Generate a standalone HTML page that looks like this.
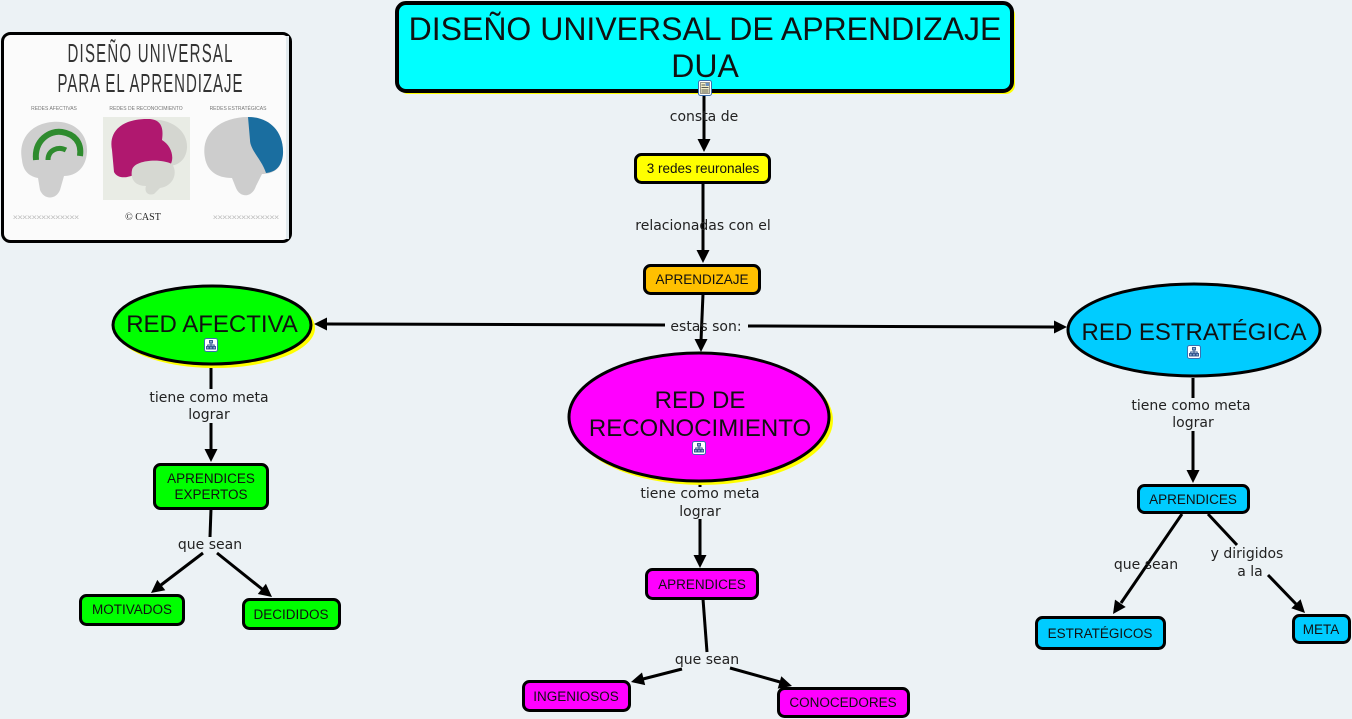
<!DOCTYPE html>
<html><head><meta charset="utf-8">
<style>
html,body{margin:0;padding:0;background:#ecf2f5;}
body{width:1352px;height:719px;overflow:hidden;position:relative;}
svg{position:absolute;left:0;top:0;}
.n{font-family:"Liberation Sans",Arial,sans-serif;fill:#111;text-anchor:middle;}
.l{font-family:"DejaVu Sans",Verdana,sans-serif;font-size:14px;fill:#222;text-anchor:middle;}
</style></head>
<body>
<svg width="1352" height="719" viewBox="0 0 1352 719" xmlns="http://www.w3.org/2000/svg">
<rect x="0" y="0" width="1352" height="719" fill="#ecf2f5"/>

<!-- Thumbnail image -->
<rect x="2.5" y="33.5" width="288" height="208" rx="8" fill="#fbfbfb" stroke="#000" stroke-width="3"/>
<rect x="286" y="36" width="3" height="203" fill="#e2eaee"/>
<g transform="scale(1,1.75)">
<text x="150" y="35.4" font-family="Liberation Sans, sans-serif" font-size="15" fill="#333" text-anchor="middle" textLength="165" lengthAdjust="spacing">DISEÑO UNIVERSAL</text>
<text x="150" y="52.6" font-family="Liberation Sans, sans-serif" font-size="15" fill="#333" text-anchor="middle" textLength="185" lengthAdjust="spacing">PARA EL APRENDIZAJE</text>
</g>
<g font-family="Liberation Sans, sans-serif" font-size="5" fill="#777" text-anchor="middle">
<text x="54" y="110">REDES AFECTIVAS</text>
<text x="146" y="110">REDES DE RECONOCIMIENTO</text>
<text x="238" y="110">REDES ESTRATÉGICAS</text>
</g>
<!-- left brain -->
<path d="M22,160 C18,140 30,124 52,122 C72,120 88,132 87,152 C86,168 76,176 64,176 L60,190 C56,200 44,200 40,190 L38,178 C28,176 23,170 22,160 Z" fill="#cfcfcf"/>
<path d="M36,160 C34,140 50,130 62,132 C74,134 82,142 80,156" fill="none" stroke="#2e8b2e" stroke-width="6"/>
<path d="M48,160 C48,150 58,146 66,150" fill="none" stroke="#2e8b2e" stroke-width="5"/>
<!-- middle -->
<rect x="103" y="117" width="87" height="83" fill="#e9ece5"/>
<path d="M150,120 C170,118 188,130 187,148 C186,160 178,166 168,166 L160,140 Z" fill="#d4d6d0"/>
<path d="M112,150 C108,130 124,118 150,119 C160,120 164,126 162,140 C172,146 176,160 168,168 L140,172 C130,178 118,180 114,172 Z" fill="#b0186f"/>
<path d="M132,170 C134,160 160,158 172,164 C178,172 174,186 160,188 L154,194 C148,196 144,192 146,186 C136,186 130,180 132,170 Z" fill="#d6d8d2"/>
<!-- right brain -->
<path d="M205,158 C200,132 222,117 248,117 C270,117 284,132 283,154 C282,170 272,174 262,174 L256,186 C252,198 240,198 236,188 L232,178 C216,178 207,170 205,158 Z" fill="#cdcdcd"/>
<path d="M248,117 C270,117 284,132 283,154 C282,166 276,172 266,173 C262,160 250,150 250,140 Z" fill="#1a6ea0"/>
<text x="143" y="220" font-family="Liberation Serif, serif" font-size="10" fill="#222" text-anchor="middle">© CAST</text>
<text x="46" y="219" font-family="Liberation Sans, sans-serif" font-size="6" fill="#bbb" text-anchor="middle" textLength="66" lengthAdjust="spacingAndGlyphs">xxxxxxxxxxxxxx</text>
<text x="246" y="219" font-family="Liberation Sans, sans-serif" font-size="6" fill="#bbb" text-anchor="middle" textLength="66" lengthAdjust="spacingAndGlyphs">xxxxxxxxxxxxxx</text>

<!-- Connectors -->
<g stroke="#000" stroke-width="3" fill="none">
<line x1="704" y1="96" x2="704" y2="141"/>
<line x1="703" y1="183" x2="703" y2="252"/>
<line x1="703" y1="294" x2="701" y2="341"/>
<line x1="665" y1="325" x2="326" y2="324"/>
<line x1="748" y1="326" x2="1055" y2="327"/>
<line x1="211" y1="368" x2="211" y2="389"/>
<line x1="211" y1="423" x2="211" y2="450"/>
<line x1="211" y1="509" x2="210" y2="537"/>
<line x1="203" y1="553" x2="161" y2="585"/>
<line x1="217" y1="553" x2="262" y2="589"/>
<line x1="700" y1="482" x2="700" y2="487"/>
<line x1="700" y1="519" x2="700" y2="556"/>
<line x1="703" y1="599" x2="707" y2="652"/>
<line x1="682" y1="669" x2="643" y2="679"/>
<line x1="730" y1="668" x2="780" y2="682"/>
<line x1="1193" y1="378" x2="1193" y2="398"/>
<line x1="1193" y1="431" x2="1193" y2="471"/>
<line x1="1182" y1="514" x2="1121" y2="603"/>
<line x1="1208" y1="514" x2="1237" y2="545"/>
<line x1="1268" y1="575" x2="1296" y2="604"/>
</g>
<g fill="#000">
<polygon points="704,152 697.5,139 710.5,139"/>
<polygon points="703,263 696.5,250 709.5,250"/>
<polygon points="701,352 694.5,339 707.5,339"/>
<polygon points="314,324 327,317.5 327,330.5"/>
<polygon points="1067,327 1054,320.5 1054,333.5"/>
<polygon points="211,462 204.5,449 217.5,449"/>
<polygon points="151,593 165.3,590.2 157.3,579.9"/>
<polygon points="272,597 257.8,594 265.9,583.8"/>
<polygon points="700,568 693.5,555 706.5,555"/>
<polygon points="631,682 645.2,685.1 642,672.5"/>
<polygon points="792,686 777.7,688.6 781.3,676.2"/>
<polygon points="1193,483 1186.5,470 1199.5,470"/>
<polygon points="1113,614 1125.7,607 1115,599.6"/>
<polygon points="1305,613 1291.3,608.2 1300.6,599.2"/>
</g>

<!-- Link labels -->
<text class="l" x="704" y="121">consta de</text>
<text class="l" x="703" y="230">relacionadas con el</text>
<text class="l" x="706" y="331">estas son:</text>
<text class="l" x="209" y="402">tiene como meta</text>
<text class="l" x="209" y="419">lograr</text>
<text class="l" x="210" y="549">que sean</text>
<text class="l" x="700" y="498">tiene como meta</text>
<text class="l" x="700" y="516">lograr</text>
<text class="l" x="707" y="664">que sean</text>
<text class="l" x="1191" y="410">tiene como meta</text>
<text class="l" x="1193" y="427">lograr</text>
<text class="l" x="1146" y="569">que sean</text>
<text class="l" x="1247" y="558">y dirigidos</text>
<text class="l" x="1250" y="576">a la</text>

<!-- Title -->
<rect x="399" y="6" width="616" height="88" rx="9" fill="#ffff00"/>
<rect x="397" y="3" width="615" height="88" rx="9" fill="#00ffff" stroke="#000" stroke-width="4"/>
<text class="n" x="705" y="40" font-size="32">DISEÑO UNIVERSAL DE APRENDIZAJE</text>
<text class="n" x="705" y="77" font-size="32">DUA</text>
<!-- doc icon -->
<rect x="698.5" y="80.5" width="13" height="15" rx="2" fill="#fff" stroke="#3a6fb0" stroke-width="1"/>
<rect x="700.5" y="82.5" width="9" height="11" fill="#f4efc8" stroke="#555" stroke-width="0.6"/>
<g stroke="#333" stroke-width="0.8"><line x1="701.5" y1="85" x2="705" y2="85"/><line x1="701.5" y1="87.5" x2="708.5" y2="87.5"/><line x1="701.5" y1="90" x2="708.5" y2="90"/><line x1="701.5" y1="92" x2="708.5" y2="92"/></g>
<rect x="705.5" y="83" width="3.5" height="3" fill="#6a8fc0"/>

<!-- Nodes -->
<rect x="635.5" y="154.5" width="134" height="28" rx="6" fill="#ffff00" stroke="#000" stroke-width="3"/>
<text class="n" x="703" y="173" font-size="13.5">3 redes reuronales</text>

<rect x="644.5" y="265.5" width="115" height="28" rx="6" fill="#ffc000" stroke="#000" stroke-width="3"/>
<text class="n" x="702" y="284" font-size="13.5">APRENDIZAJE</text>

<!-- RED AFECTIVA -->
<ellipse cx="215" cy="328" rx="100" ry="40" fill="#ffff00"/>
<ellipse cx="212" cy="325" rx="99" ry="39" fill="#00ff00" stroke="#000" stroke-width="3"/>
<text class="n" x="212" y="332" font-size="24">RED AFECTIVA</text>

<!-- RED DE RECONOCIMIENTO -->
<ellipse cx="702" cy="420" rx="131" ry="65" fill="#ffff00"/>
<ellipse cx="699" cy="417" rx="130" ry="64" fill="#ff00ff" stroke="#000" stroke-width="3"/>
<text class="n" x="700" y="408" font-size="24">RED DE</text>
<text class="n" x="700" y="436" font-size="24">RECONOCIMIENTO</text>

<!-- RED ESTRATEGICA -->
<ellipse cx="1194" cy="330" rx="126" ry="46" fill="#00ccff" stroke="#000" stroke-width="3"/>
<text class="n" x="1194" y="340" font-size="24">RED ESTRATÉGICA</text>

<!-- tree icons -->
<g>
<rect x="204.5" y="338.5" width="13" height="13" rx="2" fill="#fff" stroke="#3a6fb0" stroke-width="1"/>
<g stroke="#2b4f8a" stroke-width="0.9" fill="#8aa6d0"><rect x="209.5" y="340.5" width="3" height="2.5"/><rect x="206.5" y="346.5" width="2.5" height="2.5"/><rect x="213" y="346.5" width="2.5" height="2.5"/><rect x="209.7" y="346.5" width="2.5" height="2.5"/><path d="M211,343 V346 M207.7,346 V345 H214.2 V346" fill="none"/></g>
</g>
<g transform="translate(488,103)">
<rect x="204.5" y="338.5" width="13" height="13" rx="2" fill="#fff" stroke="#3a6fb0" stroke-width="1"/>
<g stroke="#2b4f8a" stroke-width="0.9" fill="#8aa6d0"><rect x="209.5" y="340.5" width="3" height="2.5"/><rect x="206.5" y="346.5" width="2.5" height="2.5"/><rect x="213" y="346.5" width="2.5" height="2.5"/><rect x="209.7" y="346.5" width="2.5" height="2.5"/><path d="M211,343 V346 M207.7,346 V345 H214.2 V346" fill="none"/></g>
</g>
<g transform="translate(983,7)">
<rect x="204.5" y="338.5" width="13" height="13" rx="2" fill="#fff" stroke="#3a6fb0" stroke-width="1"/>
<g stroke="#2b4f8a" stroke-width="0.9" fill="#8aa6d0"><rect x="209.5" y="340.5" width="3" height="2.5"/><rect x="206.5" y="346.5" width="2.5" height="2.5"/><rect x="213" y="346.5" width="2.5" height="2.5"/><rect x="209.7" y="346.5" width="2.5" height="2.5"/><path d="M211,343 V346 M207.7,346 V345 H214.2 V346" fill="none"/></g>
</g>

<!-- green boxes -->
<rect x="154.5" y="464.5" width="113" height="44" rx="6" fill="#00ff00" stroke="#000" stroke-width="3"/>
<text class="n" x="211" y="483" font-size="13.5">APRENDICES</text>
<text class="n" x="211" y="499" font-size="13.5">EXPERTOS</text>
<rect x="80.5" y="595.5" width="103" height="29" rx="6" fill="#00ff00" stroke="#000" stroke-width="3"/>
<text class="n" x="132" y="614" font-size="13.5">MOTIVADOS</text>
<rect x="243.5" y="599.5" width="96" height="29" rx="6" fill="#00ff00" stroke="#000" stroke-width="3"/>
<text class="n" x="291" y="619" font-size="13.5">DECIDIDOS</text>

<!-- magenta boxes -->
<rect x="646.5" y="569.5" width="111" height="29" rx="6" fill="#ff00ff" stroke="#000" stroke-width="3"/>
<text class="n" x="702" y="589" font-size="13.5">APRENDICES</text>
<rect x="523.5" y="681.5" width="106" height="29" rx="6" fill="#ff00ff" stroke="#000" stroke-width="3"/>
<text class="n" x="576" y="701" font-size="13.5">INGENIOSOS</text>
<rect x="778.5" y="688.5" width="130" height="28" rx="6" fill="#ff00ff" stroke="#000" stroke-width="3"/>
<text class="n" x="843" y="707" font-size="13.5">CONOCEDORES</text>

<!-- blue boxes -->
<rect x="1138.5" y="485.5" width="110" height="27" rx="6" fill="#00ccff" stroke="#000" stroke-width="3"/>
<text class="n" x="1193" y="504" font-size="13.5">APRENDICES</text>
<rect x="1036.5" y="617.5" width="128" height="31" rx="6" fill="#00ccff" stroke="#000" stroke-width="3"/>
<text class="n" x="1100" y="638" font-size="13.5">ESTRATÉGICOS</text>
<rect x="1293.5" y="615.5" width="56" height="27" rx="6" fill="#00ccff" stroke="#000" stroke-width="3"/>
<text class="n" x="1321" y="634" font-size="13.5">META</text>
</svg>
</body></html>
